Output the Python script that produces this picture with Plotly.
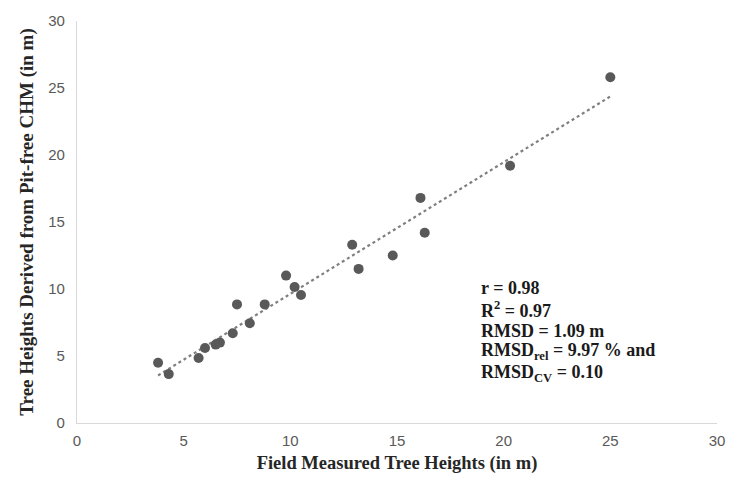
import numpy as np
import plotly.graph_objects as go

# Field-measured vs. CHM-derived tree heights (m)
field_heights = [3.8, 4.3, 5.7, 6.0, 6.5, 6.7, 7.3, 7.5, 8.1, 8.8,
                 9.8, 10.2, 10.5, 12.9, 13.2, 14.8, 16.1, 16.3, 20.3, 25.0]
chm_heights = [4.5, 3.65, 4.85, 5.6, 5.85, 6.0, 6.7, 8.85, 7.45, 8.85,
               11.0, 10.15, 9.55, 13.3, 11.5, 12.5, 16.8, 14.2, 19.2, 25.8]

axis_ticks = [0, 5, 10, 15, 20, 25, 30]

stats_lines = [
    "r = 0.98",
    "R<sup>2</sup> = 0.97",
    "RMSD = 1.09 m",
    "RMSD<sub>rel</sub> = 9.97 % and",
    "RMSD<sub>CV</sub> = 0.10",
]

# Linear trendline over the measured range
slope, intercept = np.polyfit(field_heights, chm_heights, 1)
trend_x = [min(field_heights), max(field_heights)]
trend_y = [slope * v + intercept for v in trend_x]

fig = go.Figure()
fig.add_trace(go.Scatter(
    x=trend_x, y=trend_y, mode="lines",
    line=dict(color="#7f7f7f", width=2.2, dash="dot"),
    hoverinfo="skip", showlegend=False,
))
fig.add_trace(go.Scatter(
    x=field_heights, y=chm_heights, mode="markers",
    marker=dict(color="#595959", size=10, line=dict(width=0)),
    showlegend=False,
))

serif = "Liberation Serif, Times New Roman, serif"
tick_font = dict(family="Liberation Sans Narrow, Liberation Sans, Arial", size=15, color="#595959")

for i, txt in enumerate(stats_lines):
    fig.add_annotation(
        x=0.628, y=0.335 - i * 0.0527, xref="paper", yref="paper",
        text="<b>" + txt + "</b>", showarrow=False,
        xanchor="left", yanchor="middle",
        font=dict(family=serif, size=18, color="#1a1a1a"),
    )

axis_common = dict(
    range=[0, 30], tickvals=axis_ticks, showgrid=False, zeroline=False,
    showline=True, linecolor="#d9d9d9", linewidth=1.2, ticks="",
    tickfont=tick_font, fixedrange=True,
)

fig.update_layout(
    width=737, height=483,
    margin=dict(l=77, r=15, t=15, b=60),
    plot_bgcolor="white", paper_bgcolor="white",
    xaxis=dict(**axis_common, ticklabelstandoff=4,
               title=dict(text="<b>Field Measured Tree Heights (in m)</b>",
                          font=dict(family=serif, size=18.5, color="#262626"),
                          standoff=7)),
    yaxis=dict(**axis_common, ticklabelstandoff=8,
               title=dict(text="<b>Tree Heights Derived from Pit-free CHM (in m)</b>",
                          font=dict(family=serif, size=19, color="#262626"),
                          standoff=9)),
)

fig.write_html("out.html")
